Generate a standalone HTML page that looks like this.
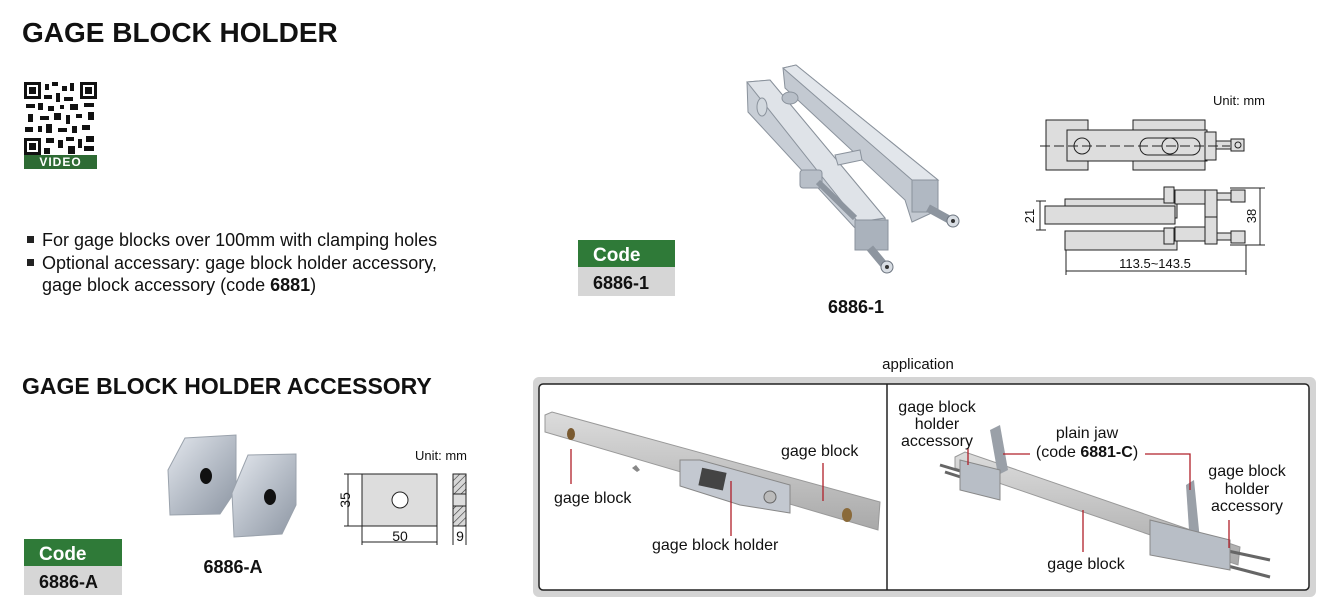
<!DOCTYPE html>
<html><head><meta charset="utf-8"><style>
body{margin:0;background:#fff;width:1326px;height:616px;overflow:hidden}
svg{display:block}
text{font-family:"Liberation Sans",Arial,sans-serif}
</style></head><body>
<svg width="1326" height="616" viewBox="0 0 1326 616" xmlns="http://www.w3.org/2000/svg">
<defs>
<linearGradient id="metal" x1="0" y1="0" x2="1" y2="1"><stop offset="0" stop-color="#e4e8ee"/><stop offset="0.5" stop-color="#b7bec8"/><stop offset="1" stop-color="#8d96a3"/></linearGradient>
<linearGradient id="bar" x1="0" y1="0" x2="0" y2="1"><stop offset="0" stop-color="#dcdcdc"/><stop offset="1" stop-color="#a9a9a9"/></linearGradient>
<pattern id="hatch" width="5" height="5" patternUnits="userSpaceOnUse" patternTransform="rotate(45)"><rect width="5" height="5" fill="#d8d8d8"/><line x1="0" y1="0" x2="0" y2="5" stroke="#333" stroke-width="1.2"/></pattern>
</defs>

<text x="22" y="42" font-size="28" font-weight="bold" fill="#111">GAGE BLOCK HOLDER</text>

<!-- QR -->
<rect x="24" y="82" width="73" height="73" fill="#fff"/>
<g fill="#111">
<rect x="24" y="82" width="17" height="17"/><rect x="27" y="85" width="11" height="11" fill="#fff"/><rect x="29" y="87" width="7" height="7"/>
<rect x="80" y="82" width="17" height="17"/><rect x="83" y="85" width="11" height="11" fill="#fff"/><rect x="85" y="87" width="7" height="7"/>
<rect x="24" y="138" width="17" height="17"/><rect x="27" y="141" width="11" height="11" fill="#fff"/><rect x="29" y="143" width="7" height="7"/>
<rect x="45" y="84" width="4" height="6"/><rect x="52" y="82" width="6" height="4"/><rect x="62" y="86" width="5" height="5"/><rect x="70" y="83" width="4" height="8"/>
<rect x="44" y="95" width="8" height="4"/><rect x="56" y="93" width="4" height="9"/><rect x="64" y="97" width="9" height="4"/>
<rect x="26" y="104" width="9" height="4"/><rect x="38" y="103" width="5" height="7"/><rect x="48" y="106" width="6" height="5"/><rect x="60" y="105" width="4" height="4"/><rect x="70" y="104" width="8" height="6"/><rect x="84" y="103" width="10" height="4"/>
<rect x="28" y="114" width="5" height="8"/><rect x="40" y="116" width="9" height="4"/><rect x="54" y="113" width="7" height="7"/><rect x="66" y="115" width="4" height="9"/><rect x="76" y="114" width="6" height="4"/><rect x="88" y="112" width="6" height="8"/>
<rect x="25" y="127" width="8" height="5"/><rect x="38" y="126" width="4" height="6"/><rect x="46" y="124" width="6" height="9"/><rect x="58" y="128" width="9" height="4"/><rect x="72" y="126" width="5" height="7"/><rect x="82" y="125" width="8" height="5"/>
<rect x="46" y="138" width="8" height="5"/><rect x="58" y="140" width="5" height="8"/><rect x="66" y="137" width="8" height="4"/><rect x="78" y="139" width="4" height="9"/><rect x="86" y="136" width="8" height="6"/>
<rect x="44" y="148" width="6" height="6"/><rect x="68" y="146" width="7" height="8"/><rect x="84" y="146" width="10" height="5"/>
</g>
<rect x="24" y="155" width="73" height="14" fill="#2e6b34"/>
<text x="60.5" y="166" font-size="12" font-weight="bold" fill="#fff" text-anchor="middle" letter-spacing="1">VIDEO</text>

<!-- bullets -->
<rect x="27" y="236" width="7" height="7" fill="#222"/>
<rect x="27" y="259" width="7" height="7" fill="#222"/>
<g font-size="18" fill="#111">
<text x="42" y="246">For gage blocks over 100mm with clamping holes</text>
<text x="42" y="269">Optional accessary: gage block holder accessory,</text>
<text x="42" y="291">gage block accessory (code <tspan font-weight="bold">6881</tspan>)</text>
</g>

<!-- code box 1 -->
<rect x="578" y="240" width="97" height="27" fill="#2f7a38"/>
<rect x="578" y="267" width="97" height="29" fill="#d6d6d6"/>
<text x="593" y="261" font-size="19" font-weight="bold" fill="#fff">Code</text>
<text x="593" y="289" font-size="18" font-weight="bold" fill="#111">6886-1</text>

<!-- product image 1 -->
<g stroke="#8a929c">
<!-- right bar -->
<polygon points="783,68 796,65 938,180 938,210 912,222 905,200 785,88" fill="#c3c9d1"/>
<polygon points="796,65 938,180 912,180 783,68" fill="#e2e6eb"/>
<rect x="912" y="180" width="26" height="32" fill="#b0b8c2"/>
<!-- left bar -->
<polygon points="747,82 770,80 885,218 888,250 857,250 855,228 748,112" fill="#c8ced6"/>
<polygon points="747,82 770,80 885,218 858,222" fill="#dfe3e8"/>
<rect x="855" y="220" width="33" height="30" fill="#aab2bc"/>
<ellipse cx="762" cy="107" rx="5" ry="9" fill="#d2d8de"/>
<ellipse cx="790" cy="98" rx="8" ry="6" fill="#b8bfc8"/>
<rect x="800" y="170" width="22" height="18" rx="3" fill="#b8bfc8"/>
<line x1="818" y1="182" x2="855" y2="218" stroke="#8d959f" stroke-width="6"/>
<polygon points="835,155 860,150 862,160 838,165" fill="#cfd5dc"/>
</g>
<line x1="870" y1="248" x2="885" y2="266" stroke="#8d959f" stroke-width="8"/>
<circle cx="887" cy="267" r="6" fill="#d8dde3" stroke="#6d7580"/>
<circle cx="887" cy="267" r="2" fill="#333"/>
<line x1="928" y1="208" x2="950" y2="220" stroke="#8d959f" stroke-width="8"/>
<circle cx="953" cy="221" r="6" fill="#d8dde3" stroke="#6d7580"/>
<circle cx="953" cy="221" r="2" fill="#333"/>
<text x="856" y="313" font-size="18" font-weight="bold" fill="#111" text-anchor="middle">6886-1</text>

<!-- drawing 1 -->
<text x="1265" y="105" font-size="13" fill="#111" text-anchor="end">Unit: mm</text>
<g stroke="#222" stroke-width="1" fill="#ddd">
<rect x="1046" y="120" width="42" height="50"/>
<rect x="1133" y="120" width="72" height="50"/>
<rect x="1067" y="130" width="140" height="31"/>
<rect x="1205" y="132" width="11" height="28"/>
<rect x="1216" y="141" width="15" height="8"/>
<rect x="1231" y="139" width="13" height="12"/>
<circle cx="1082" cy="146" r="8" fill="#ddd"/>
<rect x="1140" y="138" width="60" height="17" rx="8" fill="#ddd"/>
<circle cx="1170" cy="146" r="8" fill="#ddd"/>
<circle cx="1238" cy="145" r="3" fill="none"/>
</g>
<line x1="1040" y1="146" x2="1230" y2="146" stroke="#222" stroke-dasharray="10,4"/>
<g stroke="#222" stroke-width="1" fill="#ddd">
<rect x="1065" y="199" width="112" height="19"/>
<rect x="1065" y="231" width="112" height="19" />
<rect x="1045" y="206" width="130" height="18"/>
<rect x="1164" y="187" width="10" height="16"/>
<rect x="1164" y="228" width="10" height="16"/>
<rect x="1175" y="190" width="30" height="14"/>
<rect x="1175" y="227" width="30" height="14"/>
<rect x="1205" y="190" width="12" height="28"/>
<rect x="1205" y="217" width="12" height="27"/>
<rect x="1217" y="193" width="14" height="7"/>
<rect x="1217" y="233" width="14" height="7"/>
<rect x="1231" y="190" width="14" height="12"/>
<rect x="1231" y="231" width="14" height="12"/>
</g>
<g stroke="#222" stroke-width="1" fill="none">
<line x1="1036" y1="201" x2="1046" y2="201"/><line x1="1036" y1="230" x2="1046" y2="230"/><line x1="1040" y1="201" x2="1040" y2="230"/>
<line x1="1230" y1="188" x2="1265" y2="188"/><line x1="1230" y1="245" x2="1265" y2="245"/><line x1="1260" y1="188" x2="1260" y2="245"/>
<line x1="1066" y1="250" x2="1066" y2="275"/><line x1="1246" y1="245" x2="1246" y2="275"/><line x1="1066" y1="271" x2="1246" y2="271"/>
</g>
<text x="1034" y="216" font-size="13" fill="#111" text-anchor="middle" transform="rotate(-90 1034 216)">21</text>
<text x="1260" y="216" font-size="13" fill="#111" text-anchor="middle" transform="rotate(-90 1260 216)" dy="-4">38</text>
<text x="1155" y="268" font-size="13" fill="#111" text-anchor="middle">113.5~143.5</text>

<!-- section 2 -->
<text x="22" y="394" font-size="23" font-weight="bold" fill="#111">GAGE BLOCK HOLDER ACCESSORY</text>

<!-- blocks -->
<polygon points="168,470 185,438 236,435 236,490 220,514 170,515" fill="url(#metal)" stroke="#9aa2ac"/>
<ellipse cx="206" cy="476" rx="6" ry="8" fill="#111"/>
<polygon points="232,493 248,455 296,454 296,505 282,534 234,537" fill="url(#metal)" stroke="#9aa2ac"/>
<ellipse cx="270" cy="497" rx="6" ry="8" fill="#111"/>
<text x="233" y="573" font-size="18" font-weight="bold" fill="#111" text-anchor="middle">6886-A</text>

<!-- drawing 2 -->
<text x="467" y="460" font-size="13" fill="#111" text-anchor="end">Unit: mm</text>
<rect x="362" y="474" width="75" height="52" fill="#ddd" stroke="#222"/>
<circle cx="400" cy="500" r="8" fill="#fff" stroke="#222"/>
<rect x="453" y="474" width="13" height="52" fill="url(#hatch)" stroke="#222"/>
<rect x="453" y="494" width="13" height="12" fill="#ddd" stroke="#222"/>
<g stroke="#222" fill="none">
<line x1="344" y1="474" x2="362" y2="474"/><line x1="344" y1="526" x2="362" y2="526"/><line x1="348" y1="474" x2="348" y2="526"/>
<line x1="362" y1="526" x2="362" y2="545"/><line x1="437" y1="526" x2="437" y2="545"/><line x1="362" y1="542" x2="437" y2="542"/>
<line x1="453" y1="526" x2="453" y2="545"/><line x1="466" y1="526" x2="466" y2="545"/>
</g>
<text x="345" y="500" font-size="14" fill="#111" text-anchor="middle" transform="rotate(-90 345 500)" dy="5">35</text>
<text x="400" y="541" font-size="14" fill="#111" text-anchor="middle">50</text>
<text x="460" y="541" font-size="14" fill="#111" text-anchor="middle">9</text>

<!-- code box 2 -->
<rect x="24" y="539" width="98" height="27" fill="#2f7a38"/>
<rect x="24" y="566" width="98" height="29" fill="#d6d6d6"/>
<text x="39" y="560" font-size="19" font-weight="bold" fill="#fff">Code</text>
<text x="39" y="588" font-size="18" font-weight="bold" fill="#111">6886-A</text>

<!-- application -->
<text x="918" y="369" font-size="15" fill="#111" text-anchor="middle">application</text>
<rect x="533" y="377" width="783" height="220" rx="6" fill="#d4d4d4"/>
<rect x="539" y="384" width="770" height="206" rx="4" fill="#fff" stroke="#222" stroke-width="1.5"/>
<line x1="887" y1="384" x2="887" y2="590" stroke="#222" stroke-width="1.5"/>

<!-- left app image -->
<polygon points="545,415 552,412 880,502 878,530 545,432" fill="url(#bar)" stroke="#999"/>
<ellipse cx="571" cy="434" rx="4" ry="6" fill="#7a5a30"/>
<ellipse cx="847" cy="515" rx="5" ry="7" fill="#8a6a3a"/>
<polygon points="636,465 640,470 637,472 632,468" fill="#888"/>
<polygon points="680,460 700,460 790,485 790,513 740,505 680,486" fill="#c3c8d0" stroke="#888"/>
<rect x="700" y="470" width="25" height="18" fill="#444" transform="rotate(12 712 479)"/>
<circle cx="770" cy="497" r="6" fill="#bbb" stroke="#666"/>
<g stroke="#b0202a" stroke-width="1.3" fill="none">
<line x1="571" y1="449" x2="571" y2="484"/>
<line x1="731" y1="481" x2="731" y2="536"/>
<line x1="823" y1="463" x2="823" y2="501"/>
</g>
<g font-size="16" fill="#111">
<text x="554" y="503">gage block</text>
<text x="781" y="456">gage block</text>
<text x="652" y="550">gage block holder</text>
</g>

<!-- right app image -->
<polygon points="955,457 965,452 1240,547 1238,565 955,468" fill="url(#bar)" stroke="#999"/>
<polygon points="990,430 1000,425 1008,470 998,475" fill="#9aa0a8"/>
<polygon points="1186,485 1194,480 1200,540 1190,545" fill="#9aa0a8"/>
<line x1="940" y1="465" x2="990" y2="480" stroke="#666" stroke-width="3"/>
<line x1="945" y1="472" x2="995" y2="488" stroke="#666" stroke-width="3"/>
<line x1="1200" y1="545" x2="1270" y2="560" stroke="#666" stroke-width="3"/>
<line x1="1205" y1="560" x2="1270" y2="577" stroke="#666" stroke-width="3"/>
<polygon points="960,460 1000,470 1000,500 960,490" fill="#b8bec6" stroke="#888"/>
<polygon points="1150,520 1230,540 1230,570 1150,555" fill="#b8bec6" stroke="#888"/>
<g stroke="#b0202a" stroke-width="1.3" fill="none">
<line x1="968" y1="448" x2="968" y2="465"/>
<polyline points="1003,454 1030,454"/>
<polyline points="1145,454 1190,454 1190,490"/>
<line x1="1229" y1="520" x2="1229" y2="548"/>
<line x1="1083" y1="510" x2="1083" y2="552"/>
</g>
<g font-size="16" fill="#111" text-anchor="middle">
<text x="937" y="412">gage block</text>
<text x="937" y="429">holder</text>
<text x="937" y="446">accessory</text>
<text x="1087" y="438">plain jaw</text>
<text x="1087" y="457">(code <tspan font-weight="bold">6881-C</tspan>)</text>
<text x="1247" y="476">gage block</text>
<text x="1247" y="494">holder</text>
<text x="1247" y="511">accessory</text>
<text x="1086" y="569">gage block</text>
</g>
</svg>
</body></html>
